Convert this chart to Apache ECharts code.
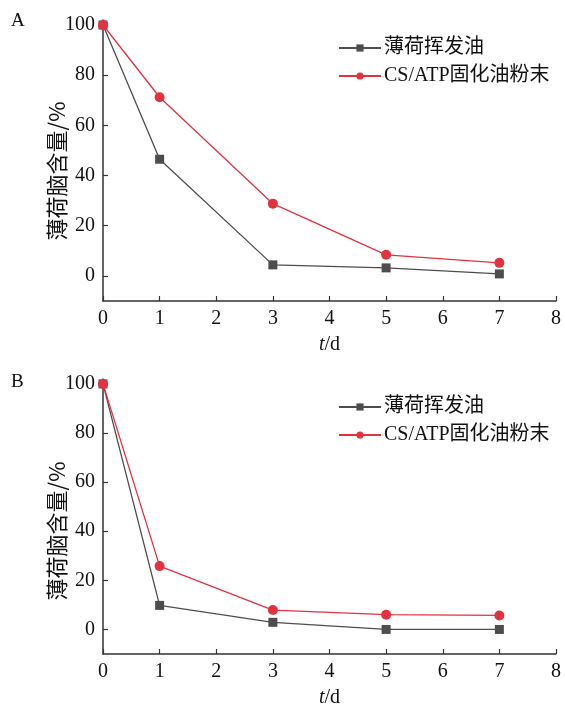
<!DOCTYPE html>
<html><head><meta charset="utf-8">
<script src="https://cdn.jsdelivr.net/npm/echarts@6/dist/echarts.min.js"></script>
<style>html,body{margin:0;padding:0;background:#fff}#c{width:565px;height:709px}</style>
</head><body><div id="c"></div>
<script>
const days = [0, 1, 3, 5, 7];
const oilA = [100, 46.5, 4.4, 3.2, 0.8];
const powderA = [100, 71.2, 28.8, 8.4, 5.2];
const oilB = [100, 9.8, 2.9, 0, 0];
const powderB = [100, 25.8, 7.9, 6.0, 5.7];
const xTicks = [0, 1, 2, 3, 4, 5, 6, 7, 8];
const yTicks = [0, 20, 40, 60, 80, 100];
const nameOil = '薄荷挥发油';
const namePowder = 'CS/ATP固化油粉末';
const panelLabels = ['A', 'B'];

const serif = '"Liberation Serif", "Times New Roman", serif';
const cjk = '"Liberation Serif", "Noto Sans CJK SC", serif';
const axisColor = '#333';
const oilColor = '#4d4d4d';
const redColor = '#e2313f';

const grids = [
  {left: 103, right: 9, top: 20, height: 281},
  {left: 103, right: 9, top: 379, height: 281}
];

function xAxis(i) {
  return {
    type: 'value', gridIndex: i, min: 0, max: 8, interval: 1,
    name: '{i|t}/d', nameLocation: 'middle', nameGap: 34,
    nameTextStyle: {color: '#111', fontFamily: serif, fontSize: 20,
      rich: {i: {fontStyle: 'italic', fontFamily: serif, fontSize: 20, color: '#111'}}},
    axisLine: {onZero: false, lineStyle: {color: axisColor, width: 1.5}},
    axisTick: {inside: true, length: 5, lineStyle: {color: axisColor, width: 1.2}},
    axisLabel: {color: '#111', fontFamily: serif, fontSize: 20, margin: 8,
      customValues: xTicks},
    splitLine: {show: false}
  };
}
function yAxis(i) {
  return {
    type: 'value', gridIndex: i, min: -10, max: 102,
    axisLine: {show: true, onZero: false, lineStyle: {color: axisColor, width: 1.5}},
    axisTick: {show: true, inside: true, length: 5, customValues: yTicks,
      lineStyle: {color: axisColor, width: 1.2}},
    axisLabel: {color: '#111', fontFamily: serif, fontSize: 20, margin: 8,
      customValues: yTicks},
    splitLine: {show: false}
  };
}
function pairs(vals) { return days.map((d, k) => [d, vals[k]]); }
function series(name, vals, i, isOil) {
  return {
    name: name, type: 'line', xAxisIndex: i, yAxisIndex: i,
    data: pairs(vals),
    symbol: isOil ? 'rect' : 'circle', symbolSize: isOil ? 9 : 10,
    lineStyle: {color: isOil ? oilColor : redColor, width: 1.3},
    itemStyle: {color: isOil ? oilColor : redColor},
    z: isOil ? 2 : 3
  };
}
function legend(top) {
  return {
    top: top, left: 333, orient: 'vertical', itemGap: 8,
    itemWidth: 42, itemHeight: 9,
    textStyle: {fontFamily: cjk, fontSize: 20, color: '#111', padding: [0, 0, 0, -2]},
    data: [nameOil, namePowder]
  };
}

const chart = echarts.init(document.getElementById('c'), null, {renderer: 'canvas'});
chart.setOption({
  animation: false,
  backgroundColor: '#fff',
  grid: grids,
  xAxis: [xAxis(0), xAxis(1)],
  yAxis: [yAxis(0), yAxis(1)],
  legend: [legend(33), legend(392)],
  series: [
    series(nameOil, oilA, 0, true), series(namePowder, powderA, 0, false),
    series(nameOil, oilB, 1, true), series(namePowder, powderB, 1, false)
  ],
  graphic: [
    {type: 'text', left: 11, top: 12, style: {text: panelLabels[0], font: '19px ' + serif, fill: '#111'}},
    {type: 'text', left: 11, top: 373, style: {text: panelLabels[1], font: '19px ' + serif, fill: '#111'}},
    {type: 'text', x: 57, y: 171, rotation: Math.PI / 2,
      style: {text: '薄荷脑含量/%', font: '22px "Noto Sans CJK SC", sans-serif', fill: '#111', align: 'center', verticalAlign: 'middle'}},
    {type: 'text', x: 57, y: 531, rotation: Math.PI / 2,
      style: {text: '薄荷脑含量/%', font: '22px "Noto Sans CJK SC", sans-serif', fill: '#111', align: 'center', verticalAlign: 'middle'}}
  ]
});
</script></body></html>
